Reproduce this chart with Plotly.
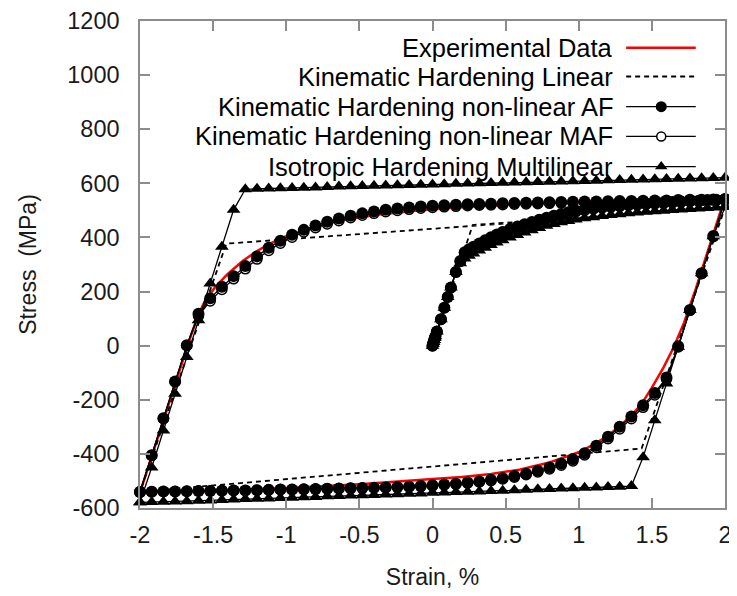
import plotly.graph_objects as go

# ---------------- data ----------------
# strain steps of the stabilised cycle (ascending branch)
strain_up = [-2.00, -1.92, -1.84, -1.76, -1.68, -1.60, -1.52, -1.44, -1.36, -1.28,
             -1.20, -1.12, -1.04, -0.96, -0.88, -0.80, -0.72, -0.64, -0.56, -0.48,
             -0.40, -0.32, -0.24, -0.16, -0.08, 0.00, 0.08, 0.16, 0.24, 0.32,
             0.40, 0.48, 0.56, 0.64, 0.72, 0.80, 0.88, 0.96, 1.04, 1.12,
             1.20, 1.28, 1.36, 1.44, 1.52, 1.60, 1.68, 1.76, 1.84, 1.92, 2.00]
strain_down = list(reversed(strain_up))

# strain steps of the initial (monotonic) loading
init_strain = [0.000, 0.004, 0.008, 0.012, 0.016, 0.020, 0.030, 0.058, 0.081, 0.104,
               0.126, 0.160, 0.190, 0.220, 0.250, 0.280, 0.320, 0.360, 0.400, 0.440,
               0.480, 0.530, 0.580, 0.630, 0.680, 0.730, 0.780, 0.830, 0.880, 0.930,
               0.980, 1.040, 1.100, 1.160, 1.220, 1.280, 1.340, 1.400, 1.460, 1.520,
               1.580, 1.640, 1.700, 1.760, 1.820, 1.880, 1.940, 2.000]

# Experimental data
exp_strain_up = [-2.00, -1.90, -1.80, -1.72, -1.65, -1.60, -1.55, -1.48, -1.40, -1.30,
                 -1.20, -1.10, -1.00, -0.80, -0.60, -0.40, -0.20, 0.00, 0.50, 1.00, 1.50, 2.00]
exp_stress_up = [-543, -375, -205, -70, 40, 115, 172, 220, 265, 312,
                 350, 380, 405, 440, 465, 483, 495, 505, 521, 532, 541, 548]
exp_strain_down = [2.00, 1.90, 1.80, 1.72, 1.65, 1.58, 1.50, 1.43, 1.36, 1.28,
                   1.20, 1.10, 1.00, 0.80, 0.60, 0.40, 0.20, 0.00, -0.50, -1.00, -1.50, -2.00]
exp_stress_down = [548, 380, 210, 85, -5, -80, -155, -215, -258, -298,
                   -332, -366, -394, -432, -458, -474, -485, -493, -512, -526, -536, -543]

# Kinematic Hardening Linear (vertices)
lin_strain = [0.000, 0.275, 2.000, 1.430, -2.000, -1.410, 2.000]
lin_stress = [0, 446, 510, -380, -540, 377, 510]

# Kinematic Hardening non-linear AF
af_init = [0, 7, 14, 21, 28, 35, 52, 98, 140, 180,
           215, 272, 313, 345, 356, 366, 378, 390, 401, 411,
           420, 431, 440, 449, 457, 465, 473, 480, 487, 493,
           499, 504, 508, 512, 515, 518, 521, 523, 525, 527,
           529, 531, 533, 535, 536, 538, 539, 541]
af_down = [541, 405, 268, 132, -2, -118, -175, -220, -262, -300,
           -337, -370, -398, -420, -436, -450, -462, -473, -482, -490,
           -496, -502, -506, -510, -513, -516, -519, -521, -522, -524,
           -525, -526, -527, -528, -529, -530, -531, -532, -532, -533,
           -534, -535, -535, -536, -537, -537, -538, -539, -539, -540, -541]
af_up = [-541, -405, -268, -132, 2, 118, 175, 218, 257, 294,
         330, 362, 388, 410, 428, 444, 458, 470, 480, 489,
         496, 502, 507, 511, 514, 517, 519, 521, 523, 524,
         525, 526, 527, 528, 529, 530, 531, 532, 533, 533,
         534, 535, 535, 536, 537, 537, 538, 539, 539, 540, 541]

# Kinematic Hardening non-linear MAF
maf_init = [0, 7, 14, 21, 28, 35, 52, 98, 140, 180,
            215, 272, 311, 341, 352, 362, 374, 386, 397, 407,
            416, 427, 436, 445, 453, 461, 469, 476, 483, 489,
            495, 500, 505, 509, 512, 515, 518, 520, 522, 524,
            526, 528, 530, 532, 534, 536, 537, 539]
maf_down = [539, 403, 266, 130, -5, -124, -182, -228, -270, -308,
            -344, -376, -404, -426, -442, -456, -467, -477, -486, -493,
            -499, -504, -508, -512, -515, -518, -520, -522, -523, -524,
            -525, -526, -527, -528, -529, -530, -531, -532, -532, -533,
            -534, -535, -535, -536, -537, -537, -538, -539, -539, -540, -540]
maf_up = [-540, -406, -270, -134, 0, 110, 165, 208, 247, 284,
          320, 352, 379, 401, 420, 436, 450, 462, 473, 482,
          489, 495, 500, 504, 508, 511, 513, 515, 517, 519,
          520, 521, 523, 524, 525, 526, 527, 528, 529, 530,
          531, 532, 532, 533, 534, 535, 536, 537, 537, 538, 539]

# Isotropic Hardening Multilinear
iso_init = [0, 7, 14, 21, 28, 35, 52, 98, 140, 180,
            215, 272, 305, 322, 332, 341, 352, 362, 372, 381,
            390, 400, 409, 418, 427, 435, 443, 450, 456, 461,
            466, 471, 475, 479, 483, 486, 489, 492, 495, 497,
            499, 501, 503, 505, 507, 509, 511, 513]
iso_down = [513, 404, 268, 132, -4, -140, -276, -412, -519, -521,
            -522, -524, -525, -527, -528, -530, -531, -533, -534, -536,
            -537, -539, -540, -541, -543, -544, -546, -547, -549, -550,
            -552, -553, -554, -556, -557, -559, -560, -562, -563, -565,
            -566, -567, -569, -570, -572, -573, -575, -576, -577, -578, -579]
iso_up = [-579, -450, -314, -178, -42, 94, 230, 366, 502, 578,
          580, 581, 582, 583, 584, 585, 586, 588, 589, 590,
          591, 592, 593, 594, 595, 596, 597, 598, 599, 600,
          601, 602, 603, 604, 605, 606, 607, 608, 609, 610,
          611, 612, 613, 614, 615, 616, 617, 618, 619, 620, 621]

x_ticks = [-2, -1.5, -1, -0.5, 0, 0.5, 1, 1.5, 2]
x_tick_text = ["-2", "-1.5", "-1", "-0.5", "0", "0.5", "1", "1.5", "2"]
y_ticks = [-600, -400, -200, 0, 200, 400, 600, 800, 1000, 1200]
y_tick_text = ["-600", "-400", "-200", "0", "200", "400", "600", "800", "1000", "1200"]

legend_names = ["Experimental Data", "Kinematic Hardening Linear",
                "Kinematic Hardening non-linear AF", "Kinematic Hardening non-linear MAF",
                "Isotropic Hardening Multilinear"]

# ---------------- figure ----------------
FONT = "Liberation Sans, Arial, sans-serif"
fig = go.Figure()

styles = [
    dict(mode="lines", line=dict(color="#ff0000", width=2.5)),
    dict(mode="lines", line=dict(color="black", width=1.8, dash="5px,4px")),
    dict(mode="lines+markers", line=dict(color="black", width=1.3),
         marker=dict(symbol="circle", size=12, color="black")),
    dict(mode="lines+markers", line=dict(color="black", width=1.3),
         marker=dict(symbol="circle", size=10, color="white", line=dict(color="black", width=1.5))),
    dict(mode="lines+markers", line=dict(color="black", width=1.3),
         marker=dict(symbol="triangle-up", size=12, color="black")),
]

series_x = [exp_strain_up + exp_strain_down,
            lin_strain,
            init_strain + strain_down + strain_up,
            init_strain + strain_down + strain_up,
            init_strain + strain_down + strain_up]
series_y = [exp_stress_up + exp_stress_down,
            lin_stress,
            af_init + af_down + af_up,
            maf_init + maf_down + maf_up,
            iso_init + iso_down + iso_up]

# drawing order: red, dashed, MAF (open) below AF (filled), triangles on top
for i in [0, 1, 3, 2, 4]:
    fig.add_trace(go.Scatter(x=series_x[i], y=series_y[i], name=legend_names[i],
                             showlegend=False, cliponaxis=(i < 2), **styles[i]))

# custom gnuplot-style key (text right-aligned, sample on the right)
key_rows = [0.945, 0.886, 0.824, 0.763, 0.701]
key_x0, key_x1, key_xm, key_text_x = 0.831, 0.950, 0.891, 0.812
for name, ky, st in zip(legend_names, key_rows, styles):
    fig.add_trace(go.Scatter(x=[key_x0, key_x1], y=[ky, ky], mode="lines",
                             line=st["line"], xaxis="x2", yaxis="y2",
                             showlegend=False, hoverinfo="skip"))
    if "markers" in st["mode"]:
        mk = dict(st["marker"])
        mk["size"] = mk["size"] - 1
        fig.add_trace(go.Scatter(x=[key_xm], y=[ky], mode="markers",
                                 marker=mk, xaxis="x2", yaxis="y2",
                                 showlegend=False, hoverinfo="skip"))
    fig.add_annotation(x=key_text_x, y=ky, xref="x2", yref="y2", text=name,
                       showarrow=False, xanchor="right", yanchor="middle",
                       font=dict(family=FONT, size=25.5, color="black"))

axis_common = dict(showline=True, linecolor="#8c8c8c", linewidth=1.5, mirror="ticks",
                   ticks="inside", ticklen=10, tickcolor="#8c8c8c", tickwidth=1.5,
                   showgrid=False, zeroline=False, ticklabeloverflow="allow",
                   tickfont=dict(family=FONT, size=23.5, color="#1a1a1a"))

# the page adds an 8px body margin, so the figure is 8px smaller than the window
fig.update_layout(
    width=729, height=588,
    margin=dict(l=132, r=12, t=13, b=88, autoexpand=False),
    paper_bgcolor="white", plot_bgcolor="white",
    showlegend=False,
    xaxis=dict(range=[-2, 2], tickvals=x_ticks, ticktext=x_tick_text,
               ticklabelstandoff=5, automargin=False,
               title=dict(text="Strain, %", font=dict(family=FONT, size=23, color="#1a1a1a"),
                          standoff=22),
               **axis_common),
    yaxis=dict(range=[-600, 1200], tickvals=y_ticks, ticktext=y_tick_text,
               ticklabelstandoff=14, automargin=False,
               title=dict(text="Stress\u00a0 (MPa)", font=dict(family=FONT, size=23, color="#1a1a1a"),
                          standoff=24),
               **axis_common),
    xaxis2=dict(range=[0, 1], overlaying="x", visible=False, fixedrange=True),
    yaxis2=dict(range=[0, 1], overlaying="y", visible=False, fixedrange=True),
)

fig.write_html("out.html")
